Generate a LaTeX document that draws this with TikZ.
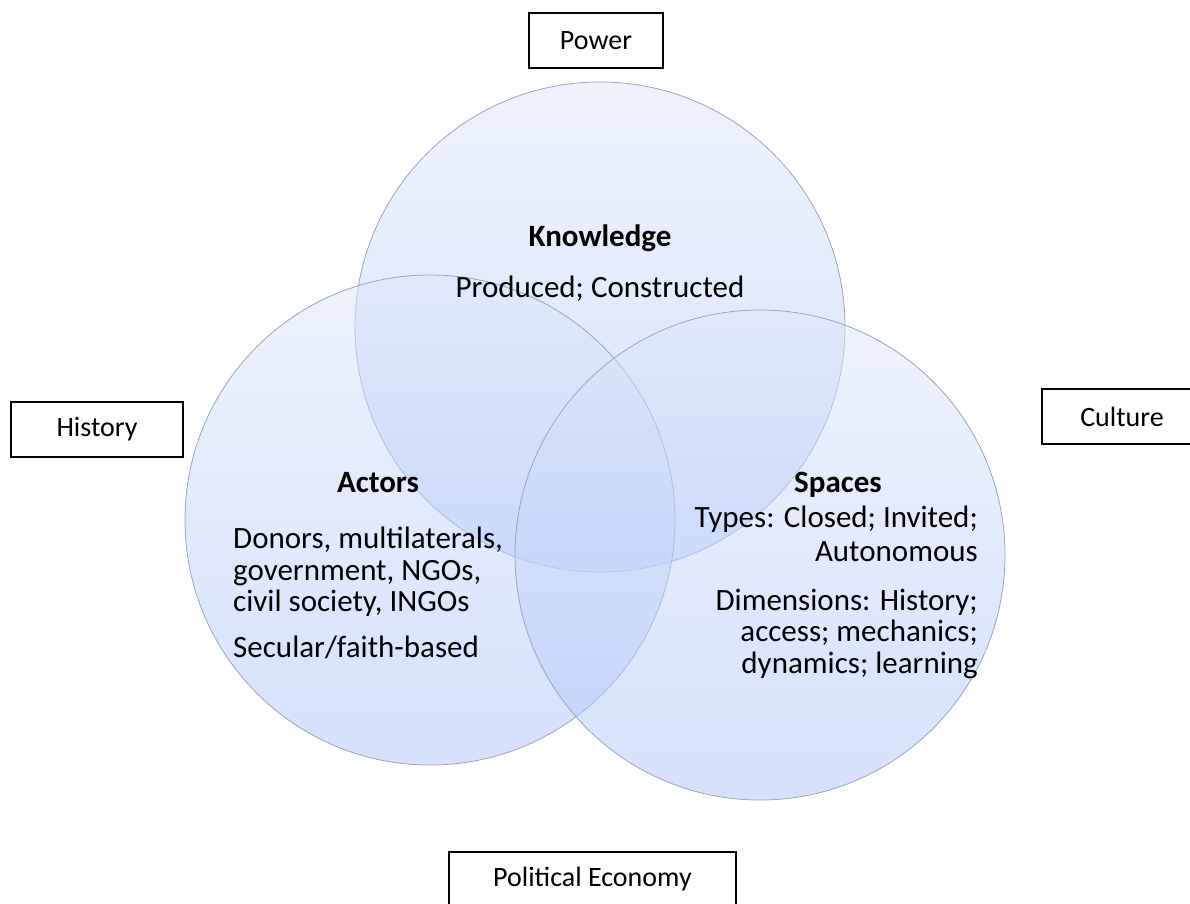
\documentclass[tikz,border=0pt]{standalone}
\usepackage{fontspec}
\setmainfont{Carlito}
\usetikzlibrary{positioning}

\definecolor{ringtop}{RGB}{221,231,251}
\definecolor{ringbot}{RGB}{171,195,251}
\definecolor{ringline}{RGB}{155,165,185}

\tikzset{
	ring/.style={circle, inner sep=0pt, minimum size=490pt, top color=ringtop, bottom color=ringbot, fill opacity=0.5, draw=ringline, draw opacity=1, line width=0.8pt},
	framebox/.style={draw=black, line width=1.4pt, minimum height=55pt, inner sep=0pt, font=\fontsize{28}{30}\selectfont},
	ringtext/.style={inner sep=0pt, font=\fontsize{31}{32}\selectfont},
	ringhead/.style={ringtext, font=\fontsize{31}{32}\selectfont\bfseries},
}

\begin{document}
\begin{tikzpicture}[x=1pt,y=-1pt]

\useasboundingbox (0,0) rectangle (1190,903);

% the three circles
\node[ring] (know) at (600,327) {};
\node[ring] (act) at (430,520) {};
\node[ring] (spc) at (760,555) {};

% outer labels
\node[framebox, minimum width=134pt] (power) at (596,40.5) {Power};
\node[framebox, minimum width=172pt] (history) at (97,429.5) {History};
\node[framebox, minimum width=160pt] (culture) at (1122,416.5) {Culture};
\node[framebox, minimum width=287pt] (polecon) at (592.5,879.5) {Political Economy};

% knowledge
\node[ringhead, anchor=base] (knowhead) at (600,246) {Knowledge};
\node[ringtext, anchor=base] (knowtxt) at (600,297) {Produced; Constructed};

% actors
\node[ringhead, anchor=base] (acthead) at (378,492) {Actors};
\def\lx{233}
\foreach \t/\yy/\nm in {{Donors, multilaterals,}/548/a, {government, NGOs,}/580/b, {civil society, INGOs}/611/c, {Secular/faith-based}/657/d} {
	\node[ringtext, anchor=base west] (act\nm) at (\lx,\yy) {\t};
}

% spaces
\node[ringhead, anchor=base] (spchead) at (838,492) {Spaces};
\def\rx{978}
\foreach \t/\yy/\nm in {{Types: Closed; Invited;}/527/a, {Autonomous}/561/b, {Dimensions: History;}/610/c, {access; mechanics;}/641/d, {dynamics; learning}/673/e} {
	\node[ringtext, anchor=base east] (spc\nm) at (\rx,\yy) {\t};
}

\end{tikzpicture}
\end{document}
